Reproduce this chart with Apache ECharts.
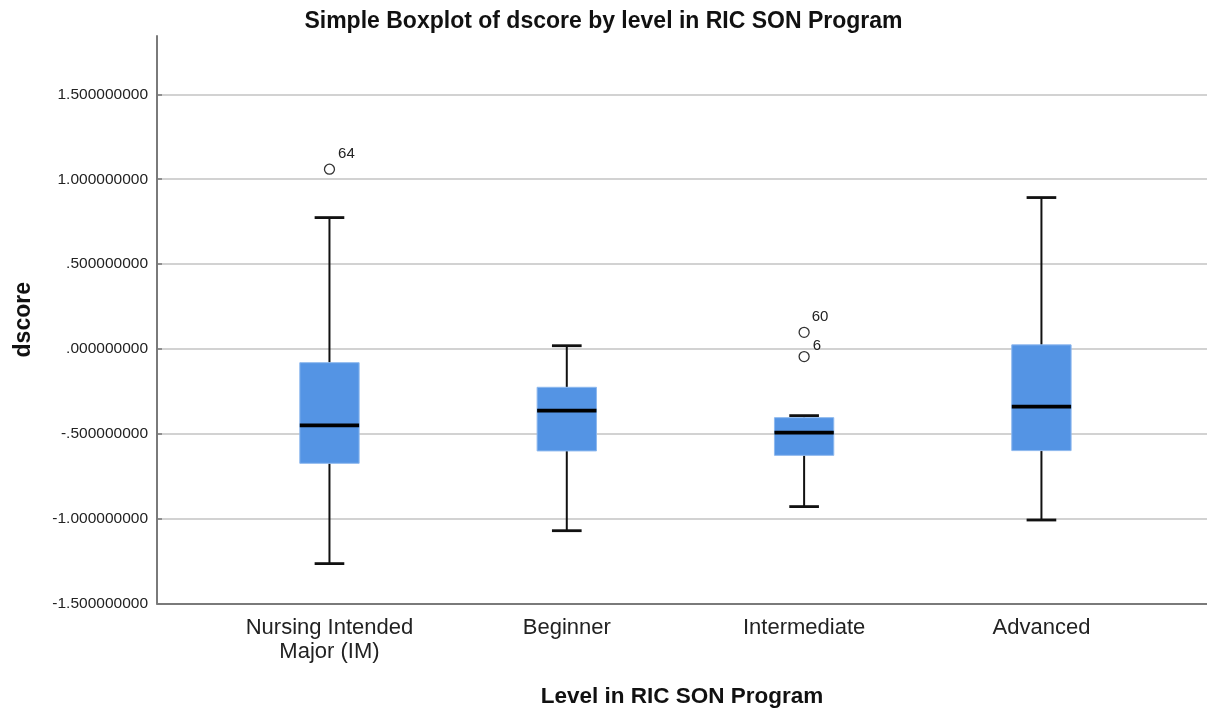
<!DOCTYPE html>
<html>
<head>
<meta charset="utf-8">
<script src="https://cdn.jsdelivr.net/npm/echarts@6/dist/echarts.min.js"></script>
<style>
html,body{margin:0;padding:0;background:#fff;}
#chart{width:1207px;height:711px;}
</style>
</head>
<body>
<div id="chart"></div>
<script>
// ---- data ----
const categories = ['Nursing Intended\nMajor (IM)', 'Beginner', 'Intermediate', 'Advanced'];
// [whiskerLow, Q1, median, Q3, whiskerHigh]
const boxIM           = [-1.265, -0.674, -0.450, -0.081, 0.774];
const boxBeginner     = [-1.071, -0.601, -0.363, -0.226, 0.019];
const boxIntermediate = [-0.929, -0.627, -0.493, -0.405, -0.393];
const boxAdvanced     = [-1.008, -0.599, -0.340, 0.024, 0.892];
// outliers: [categoryIndex, value, caseLabel]
const outliers = [[0, 1.059, '64'], [2, 0.098, '60'], [2, -0.045, '6']];
const yTicks = [-1.5, -1.0, -0.5, 0.0, 0.5, 1.0, 1.5];
const yMin = -1.5, yMax = 1.844;

// ---- styling ----
const labelOffsets = { '64': [-2, -15], '60': [-3, -15], '6': [-2, -11] };
const boxes = [boxIM, boxBeginner, boxIntermediate, boxAdvanced];
const boxData = boxes.map((b, i) => [i].concat(b));

function fmt(v) {
  let s = Math.abs(v).toFixed(9);
  if (s.startsWith('0')) s = s.slice(1);
  return (v < 0 ? '-' : '') + s;
}

function renderItem(params, api) {
  const x = api.value(0);
  const lo = api.coord([x, api.value(1)]);
  const q1 = api.coord([x, api.value(2)]);
  const md = api.coord([x, api.value(3)]);
  const q3 = api.coord([x, api.value(4)]);
  const hi = api.coord([x, api.value(5)]);
  const band = api.size([1, 0])[0];
  const bw = band * 0.25, cw = band * 0.125;
  const cx = md[0];
  const black = '#111';
  return {
    type: 'group',
    children: [
      { type: 'line', shape: { x1: cx, y1: q3[1], x2: cx, y2: hi[1] }, style: { stroke: black, lineWidth: 2 } },
      { type: 'line', shape: { x1: cx, y1: q1[1], x2: cx, y2: lo[1] }, style: { stroke: black, lineWidth: 2 } },
      { type: 'line', shape: { x1: cx - cw / 2, y1: hi[1], x2: cx + cw / 2, y2: hi[1] }, style: { stroke: black, lineWidth: 2.8 } },
      { type: 'line', shape: { x1: cx - cw / 2, y1: lo[1], x2: cx + cw / 2, y2: lo[1] }, style: { stroke: black, lineWidth: 2.8 } },
      { type: 'rect', shape: { x: cx - bw / 2, y: q3[1], width: bw, height: q1[1] - q3[1] }, style: { fill: '#5494E4', stroke: '#8DB8EE', lineWidth: 1 } },
      { type: 'line', shape: { x1: cx - bw / 2, y1: md[1], x2: cx + bw / 2, y2: md[1] }, style: { stroke: '#000', lineWidth: 3.8 } }
    ]
  };
}

const chart = echarts.init(document.getElementById('chart'));
const font = 'Arial, "Liberation Sans", sans-serif';
chart.setOption({
  animation: false,
  backgroundColor: '#fff',
  textStyle: { fontFamily: font },
  title: {
    text: 'Simple Boxplot of dscore by level in RIC SON Program',
    left: 'center', top: 5,
    textStyle: { fontFamily: font, fontSize: 23, fontWeight: 'bold', color: '#111' }
  },
  grid: [
    { left: 157, right: 0, top: 36, bottom: 107.5, outerBoundsMode: 'none', containLabel: false },
    { left: 210.8, right: 46.9, top: 36, bottom: 107.5, outerBoundsMode: 'none', containLabel: false }
  ],
  xAxis: [
    {
      gridIndex: 0, type: 'value', min: 0, max: 1,
      axisLine: { show: true, onZero: false, lineStyle: { color: '#7a7a7a', width: 2 } },
      axisTick: { show: false }, axisLabel: { show: false }, splitLine: { show: false },
      name: 'Level in RIC SON Program', nameLocation: 'middle', nameGap: 82,
      nameTextStyle: { fontFamily: font, fontSize: 22.5, fontWeight: 'bold', color: '#111' }
    },
    {
      gridIndex: 1, type: 'category', data: categories,
      axisLine: { show: false }, axisTick: { show: false },
      axisLabel: { fontFamily: font, fontSize: 22, color: '#222', margin: 12, lineHeight: 24, interval: 0 }
    }
  ],
  yAxis: [
    {
      gridIndex: 0, type: 'value', min: yMin, max: yMax, interval: 0.5,
      axisLine: { show: true, onZero: false, lineStyle: { color: '#7a7a7a', width: 2 } },
      axisTick: { show: true, inside: true, length: 5, lineStyle: { color: '#7a7a7a', width: 1.5 }, customValues: yTicks },
      axisLabel: { fontFamily: font, fontSize: 15.5, color: '#222', margin: 9, formatter: fmt, customValues: yTicks },
      splitLine: { show: true, showMinLine: false, lineStyle: { color: '#d2d2d2', width: 2 } },
      name: 'dscore', nameLocation: 'middle', nameGap: 122, nameRotate: 90,
      nameTextStyle: { fontFamily: font, fontSize: 23, fontWeight: 'bold', color: '#111' }
    },
    {
      gridIndex: 1, type: 'value', min: yMin, max: yMax, show: false
    }
  ],
  series: [
    {
      type: 'custom', xAxisIndex: 1, yAxisIndex: 1,
      renderItem: renderItem,
      encode: { x: 0, y: [1, 2, 3, 4, 5] },
      data: boxData, z: 3
    },
    {
      type: 'scatter', xAxisIndex: 1, yAxisIndex: 1,
      symbol: 'circle', symbolSize: 10, z: 4,
      itemStyle: { color: '#fff', borderColor: '#333', borderWidth: 1.3, opacity: 1 },
      data: outliers.map(o => ({
        value: [o[0], o[1]],
        label: {
          show: true, formatter: o[2], position: 'right',
          offset: labelOffsets[o[2]], fontFamily: font, fontSize: 15, color: '#222'
        }
      }))
    }
  ]
});
</script>
</body>
</html>
